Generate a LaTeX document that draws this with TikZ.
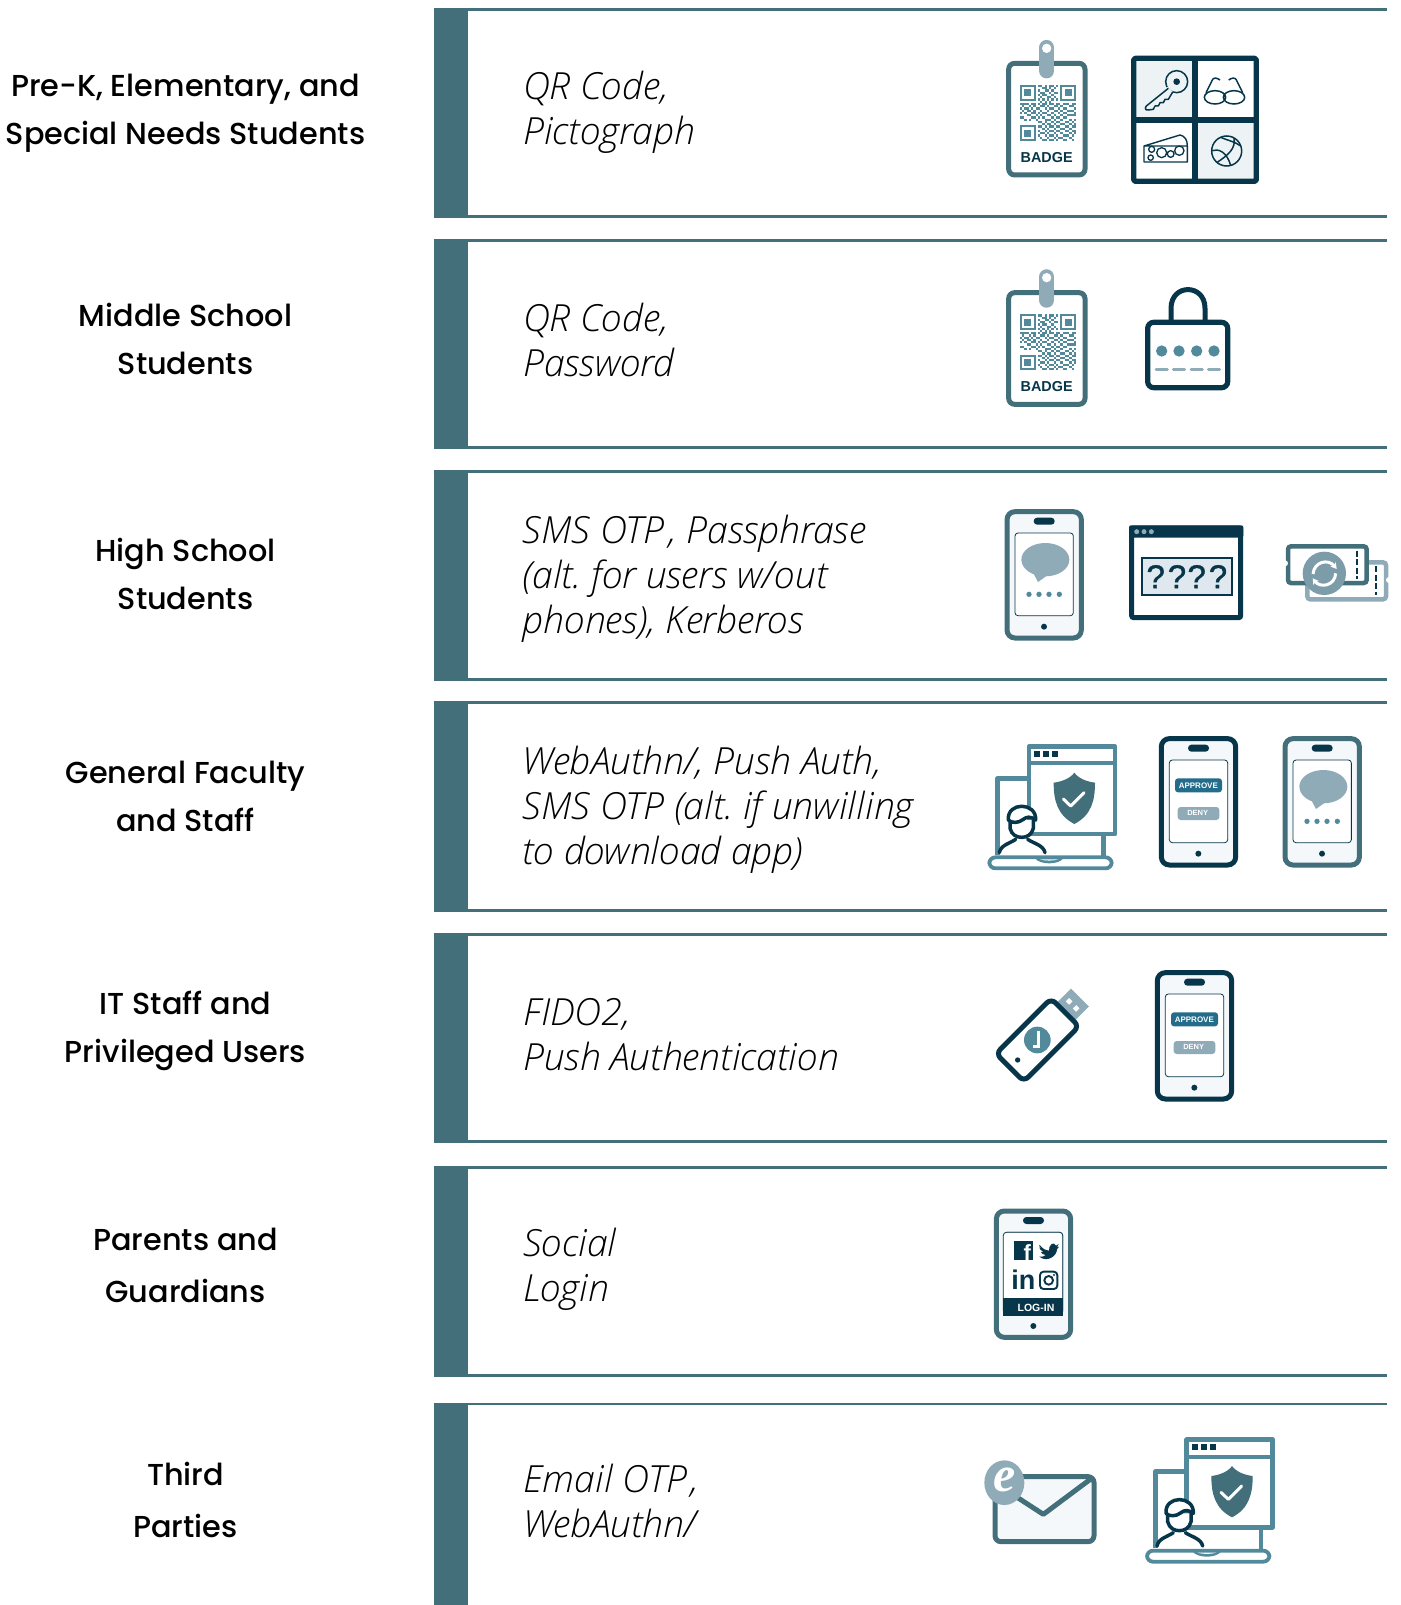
\documentclass[tikz,border=0pt]{standalone}
\usepackage{fontspec}
\setmainfont{Liberation Sans}
\frenchspacing
\newfontfamily\lblfont{Poppins Medium}
\newfontfamily\rowfont{Open Sans Light}[ItalicFont={Open Sans Light Italic}]
\newfontfamily\iconfont{Liberation Sans}[Scale=1]
\newfontfamily\qfont{Liberation Sans}[FakeBold=1.2]
\newfontfamily\efont{Liberation Serif}
\usetikzlibrary{arrows.meta}
\definecolor{barc}{HTML}{436F7B}
\definecolor{navy}{HTML}{07364A}
\definecolor{midt}{HTML}{528A9C}
\definecolor{lite}{HTML}{8FABB8}
\definecolor{pale}{HTML}{F4F8FB}
\definecolor{pale2}{HTML}{EDF3F5}
\definecolor{btn}{HTML}{236C8A}
\definecolor{boxf}{HTML}{DFE8EE}
\tikzset{
  zoomat/.style 2 args={shift={(#1pt,-#2pt)},x=0.33333pt,y=-0.33333pt},
  lbl/.style={align=center,anchor=center,inner sep=0pt,font=\lblfont\fontsize{30.3}{48}\selectfont},
  lblw/.style={align=center,anchor=center,inner sep=0pt,font=\lblfont\fontsize{30.3}{52}\selectfont},
  rowt/.style={align=left,anchor=west,inner sep=0pt,font=\rowfont\itshape\fontsize{37.4}{45}\selectfont},
  glyphb/.style={inner sep=0pt,font=\iconfont\bfseries},
}
\newcommand{\qrcode}[1]{% zoom coordinates: x 120..288, y 195..362, 25 cells
\begin{scope}[midt,shift={(120,195)},x=2.24pt,y=-2.24pt]
 \foreach \fx/\fy in {0/0,18/0,0/18}{
  \draw[line width=2pt] (\fx+.45,\fy+.45) rectangle (\fx+6.55,\fy+6.55);
  \fill (\fx+1.9,\fy+1.9) rectangle (\fx+5.1,\fy+5.1);
 }
 \foreach \ry/\cs in {0/{8,9,11,13,14,16},1/{10,11,13,15},2/{8,11,12,14},3/{9,10,13,15,16},4/{8,10,11,14},5/{9,12,13,15},6/{8,10,12,14,16},7/{9,11,13},
  8/{0,1,2,3,5,6,8,10,11,13,14,16,17,19,20,21,23,24},9/{1,4,6,9,10,12,15,16,18,22,23},10/{0,2,3,5,7,8,11,13,14,17,19,20,24},11/{1,3,4,6,9,12,15,16,18,21,22,23},12/{0,2,5,6,8,10,11,14,17,19,20,24},13/{3,4,7,9,12,13,15,18,21,22,23,24},14/{0,1,5,6,8,10,14,16,17,19,20},15/{2,4,7,11,12,13,15,18,22,24},16/{8,9,11,14,16,17,20,21,23},17/{10,12,13,15,18,19,22,24},18/{8,9,11,13,14,16,17,20,21,23,24},19/{10,12,15,18,19,22},20/{8,11,13,14,16,17,20,21,23,24},21/{9,10,12,15,18,22,24},22/{8,11,13,14,16,19,20,21,23},23/{9,12,15,17,18,22},24/{10,11,13,14,16,19,20,23}}{
  \foreach \rx in \cs { \fill (\rx,\ry) rectangle (\rx+1,\ry+1); }
 }
\end{scope}}
\newcommand{\badgeicon}[3]{% name, ox, oy
\begin{scope}[zoomat={#2}{#3}]
 \draw[barc,fill=white,line width=5pt,rounded corners=6pt] (86,130) rectangle (315,465);
 \draw[lite,line width=15.5pt,line cap=round] (200,83) -- (200,152);
 \fill[white] (200,85) circle (14);
 \qrcode{}
 \node[glyphb,navy,font=\iconfont\bfseries\fontsize{14.4}{15}\selectfont] (#1) at (200,412) {BADGE};
\end{scope}}
\newcommand{\phonebase}[3]{% colour, ox, oy
 \draw[#1,fill=pale,line width=5pt,rounded corners=8pt] (544,26) rectangle (767,405);
 \fill[navy,rounded corners=3.4pt] (624,44) rectangle (687,65);
 \fill[navy] (655,371) circle (9);
 \draw[navy,fill=white,line width=.8pt,rounded corners=3pt] (568,90) rectangle (743,338);}
\newcommand{\bubblephone}[4]{% name, colour, ox, oy
\begin{scope}[zoomat={#3}{#4}]
 \phonebase{#2}{}{}
 \fill[lite] (659,170) ellipse (72 and 50);
 \fill[lite] (620,205) -- (637,237) -- (672,212) -- cycle;
 \foreach \dx in {610,640,670,701}{\fill[midt] (\dx,274) circle (8);}
\end{scope}}
\newcommand{\approvephone}[5]{% names a,d; ox, oy; 
\begin{scope}[zoomat={#3}{#4}]
 \phonebase{navy}{}{}
 \fill[btn,rounded corners=3pt] (585,145) rectangle (726,187);
 \fill[lite,rounded corners=3pt] (593,231) rectangle (718,270);
 \node[inner sep=0pt,white,font=\iconfont\bfseries\fontsize{8}{8}\selectfont] (#1) at (655,166) {APPROVE};
 \node[inner sep=0pt,white,font=\iconfont\bfseries\fontsize{7.5}{8}\selectfont] (#2) at (653,250) {DENY};
\end{scope}}
\newcommand{\shieldicon}[3]{% name, ox, oy in row-4 zoom coordinates
\begin{scope}[zoomat={#2}{#3}]
 \draw[midt,line width=4.4pt,line join=round,fill=white] (53,375) -- (53,145) -- (147,145);
 \draw[midt,line width=4.4pt] (370,312) -- (370,378);
 \draw[midt,line width=4.4pt,fill=white,line join=round] (147,49) rectangle (405,312);
 \draw[midt,line width=4pt] (147,100) -- (410,100);
 \foreach \sx in {162,189,216}{\fill[navy] (\sx,63) rectangle +(18,18);}
 \fill[barc] (283,128) .. controls (295,145) and (320,155) .. (345,158) .. controls (345,210) and (335,255) .. (283,282) .. controls (231,255) and (221,210) .. (221,158) .. controls (246,155) and (271,145) .. (283,128) -- cycle;
 \draw[white,line width=3pt,line cap=round,line join=round] (250,207) -- (272,228) -- (312,188);
 \draw[midt,line width=3.8pt,fill=white,rounded corners=6pt] (28,382) rectangle (395,415);
 \fill[midt] (165,385) .. controls (180,405) and (235,405) .. (250,385) -- cycle;
 \fill[white] (180,388) .. controls (195,393) and (220,393) .. (235,388) -- cycle;
 \draw[navy,line width=3.5pt,line cap=round,fill=white] (90,270) -- (90,295) .. controls (95,315) and (110,322) .. (125,322) .. controls (140,322) and (155,315) .. (160,295) -- (160,270);
 \draw[navy,line width=3.5pt,line join=round,fill=white] (85,270) .. controls (80,215) and (170,215) .. (167,270) .. controls (150,258) and (140,260) .. (130,268) .. controls (115,280) and (95,280) .. (85,270) -- cycle;
 \draw[navy,line width=3.5pt,line cap=round] (58,368) .. controls (62,345) and (90,340) .. (107,328) (195,368) .. controls (190,345) and (160,340) .. (143,328);
 \coordinate (#1) at (283,205);
\end{scope}}
\begin{document}
\begin{tikzpicture}[x=1pt,y=-1pt]
\useasboundingbox (0,0) rectangle (1400,1605);
\fill[white] (0,0) rectangle (1400,1605);
% rows
\foreach \tp/\bt in {9.5/216.5,240.5/447.5,471.5/679.5,702.5/910.5,934.5/1141.5,1167.5/1375.5}{
 \fill[barc] (433.5,\tp) rectangle (468,\bt);
 \draw[barc,line width=2.6pt] (433.5,\tp) -- (1387,\tp) (433.5,\bt) -- (1387,\bt);
}
\fill[barc] (433.5,1404) rectangle (468,1605);
\draw[barc,line width=2.6pt] (433.5,1404) -- (1387,1404);
% left labels
\node[lbl] (l1) at (185.5,113.5) {Pre-K, Elementary, and\\Special Needs Students};
\node[lbl] (l2) at (185.5,339) {Middle School\\Students};
\node[lbl] (l3) at (185.5,574) {High School\\Students};
\node[lbl] (l4) at (185.5,796.5) {General Faculty\\and Staff};
\node[lbl] (l5) at (185.5,1031) {IT Staff and\\Privileged Users};
\node[lblw] (l6) at (185.5,1265.5) {Parents and\\Guardians};
\node[lblw] (l7) at (185.5,1500) {Third\\Parties};
% row text
\node[rowt] (t1) at (523,112) {QR Code,\\Pictograph};
\node[rowt] (t2) at (523,339.5) {QR Code,\\Password};
\node[rowt] (t3) at (522.5,579) {SMS OTP\kern4pt, Passphrase\\(alt. for users w/out\\phones), Kerberos};
\node[rowt] (t4) at (522.5,809.5) {WebAuthn/, Push Auth,\\SMS OTP (alt. if unwilling\\to download app)};
\node[rowt] (t5) at (523,1034.5) {FIDO2,\\Push Authentication};
\node[rowt] (t6) at (523,1269.5) {Social\\Login};
\node[rowt] (t7) at (523,1501) {Email OTP\kern4pt,\\WebAuthn/};
% row 1
\badgeicon{b1}{980}{20}
\begin{scope}[zoomat={980}{20}]
 \fill[pale2] (460,115) rectangle (645,300);
 \fill[pale2] (645,300) rectangle (830,485);
 \draw[navy,line width=5.2pt,line join=round,rounded corners=1.5pt] (461,115) rectangle (829,484);
 \draw[navy,line width=5.2pt] (645,115) -- (645,484) (461,300) -- (829,300);
 % key
 \fill[pale2,draw=navy,line width=1.5pt] (590,185) circle (33);
 \fill[pale2] (563,200) -- (497,258) -- (503,270) -- (520,268) -- (525,258) -- (535,258) -- (540,248) -- (550,248) -- (555,238) -- (565,238) -- (578,215) -- cycle;
 \draw[navy,line width=1.5pt,line join=round] (565,205) -- (499,258) .. controls (493,265) and (497,272) .. (505,270) -- (520,268) -- (525,258) -- (535,258) -- (540,248) -- (550,248) -- (555,238) -- (565,238) -- (578,216);
 \fill[navy] (590,185) circle (10);
 % glasses
 \draw[navy,line width=1.5pt] (705,232) ellipse (32 and 20) (762,232) ellipse (32 and 20);
 \draw[navy,line width=1.5pt] (737,228) -- (730,228);
 \draw[navy,line width=1.5pt,line join=round] (678,218) -- (698,178) .. controls (702,172) and (712,174) .. (720,180) (788,218) -- (768,178) .. controls (764,172) and (754,174) .. (746,180);
 % cheese
 \draw[navy,line width=1.4pt,line join=round] (492,378) -- (600,345) .. controls (615,348) and (622,360) .. (622,378) -- (622,426) -- (492,426) -- cycle (492,378) -- (622,378);
 \draw[navy,line width=1.3pt] (515,388) circle (9) (512,413) circle (8) (545,398) circle (15) (572,402) circle (10) (598,392) circle (14);
 % ball
 \draw[navy,line width=1.5pt] (740,393) circle (45);
 \draw[navy,line width=1.5pt] (722,352) .. controls (745,362) and (765,365) .. (782,378)
   (762,354) .. controls (768,385) and (745,405) .. (710,428)
   (696,392) .. controls (715,385) and (740,395) .. (752,436);
\end{scope}
% row 2
\badgeicon{b2}{980}{249.33}
\begin{scope}[zoomat={990}{270}]
 \draw[navy,line width=5pt,line cap=round] (543,150) -- (543,115) .. controls (543,40) and (645,40) .. (645,115) -- (645,150);
 \draw[navy,fill=white,line width=5.2pt,rounded corners=6pt] (473,157) rectangle (713,353);
 \foreach \dx in {515,567,620,672}{\fill[midt] (\dx,243) circle (17);}
 \foreach \dx in {515,567,620,672}{\draw[lite,line width=3pt,line cap=round] (\dx-17,298) -- (\dx+17,298);}
\end{scope}
% row 3
\bubblephone{p3}{barc}{825.67}{503}
\begin{scope}[zoomat={990}{500}]
 \draw[navy,fill=white,line width=5pt,rounded corners=2pt] (425,84) rectangle (752,353);
 \fill[navy,rounded corners=2pt] (417,76) rectangle (760,113);
 \foreach \dx in {440,462,484}{\fill[lite] (\dx,95) circle (7.5);}
 \draw[navy,fill=boxf,line width=2pt] (455,175) rectangle (726,285);
 \foreach \qx [count=\qi] in {497,561,620,684}{
  \node[inner sep=0pt,navy,font=\qfont\fontsize{33}{33}\selectfont] (q\qi) at (\qx,230) {?};
 }
 % tickets
 \draw[lite,fill=white,line width=4.5pt,rounded corners=3pt] (952,187) rectangle (1188,298);
 \fill[white] (1197,240) circle (9);
 \draw[navy,line width=2pt,dash pattern=on 6pt off 2.5pt] (1158,198) -- (1158,285);
 \draw[barc,fill=white,line width=4.5pt,rounded corners=3pt] (894,139) rectangle (1130,249);
 \fill[white] (885,190) circle (9);
 \draw[navy,line width=2pt,dash pattern=on 6pt off 2.5pt] (1101,152) -- (1101,237);
 \fill[lite!75!barc] (1003,220) circle (65);
 \draw[white,line width=3pt,-{Stealth[length=6pt,width=7pt]}] (969,222) .. controls (972,185) and (1015,175) .. (1040,207);
 \draw[white,line width=3pt,-{Stealth[length=6pt,width=7pt]}] (1037,220) .. controls (1035,258) and (990,265) .. (968,235);
\end{scope}
% row 4
\shieldicon{s4}{980}{730}
\approvephone{a4}{d4}{980}{730}{}
\bubblephone{p4}{barc}{1103.67}{730}
% row 5
\begin{scope}[zoomat={980}{960}]
 \begin{scope}[shift={(172.5,240)},rotate=45]
  \fill[lite] (122,-38) rectangle (180,38);
  \fill[white] (142,-22) rectangle +(14,14);
  \fill[white] (142,8) rectangle +(14,14);
  \draw[navy,fill=white,line width=5pt,rounded corners=6pt] (-117,-59) rectangle (117,59);
 \end{scope}
 \fill[midt] (172,240) circle (40);
 \draw[white,line width=2.4pt] (175,212) -- (175,260) -- (160,260);
 \fill[navy] (113,300) circle (8);
\end{scope}
\approvephone{a5}{d5}{976}{964}{}
% row 6
\begin{scope}[zoomat={815}{1202.33}]
 \phonebase{barc}{}{}
\end{scope}
\begin{scope}[zoomat={980}{1200}]
 \draw[navy,fill=white,line width=.8pt,rounded corners=3pt] (70,97) rectangle (248,340);
 \fill[navy] (69,295) rectangle (249,348);
 \node[inner sep=0pt,white,font=\iconfont\bfseries\fontsize{10.5}{11}\selectfont] (lg) at (168,323) {LOG-IN};
 \fill[navy] (102,123) rectangle (160,180);
 \node[inner sep=0pt,white,font=\iconfont\bfseries\fontsize{22}{22}\selectfont,anchor=base] (fb) at (142,180) {f};
 \fill[navy] (178,134) .. controls (190,148) and (198,152) .. (207,152) .. controls (205,135) and (222,122) .. (228,137) -- (236,132) -- (231,141) -- (237,140) -- (231,148) .. controls (230,170) and (200,188) .. (178,170) .. controls (186,172) and (194,168) .. (197,165) .. controls (190,165) and (184,160) .. (183,156) -- (190,155) .. controls (182,152) and (178,146) .. (178,142) -- (185,144) .. controls (178,140) and (176,138) .. (178,134) -- cycle;
 \node[inner sep=0pt,navy,font=\iconfont\bfseries\fontsize{27}{27}\selectfont,anchor=base] (li) at (130,269) {in};
 \draw[navy,line width=1.9pt,rounded corners=3.5pt] (180,215) rectangle (232,267);
 \draw[navy,line width=1.9pt] (206,241) circle (13);
 \fill[navy] (222,225) circle (3.2);
\end{scope}
% row 7
\begin{scope}[zoomat={970}{1425}]
 \draw[barc,fill=pale,line width=5pt,rounded corners=6pt] (75,155) rectangle (372,350);
 \draw[barc,line width=5pt,line join=round] (362,162) -- (220,268) -- (100,190);
 \fill[lite] (103,173) ellipse (60 and 67);
 \node[inner sep=0pt,white,font=\efont\bfseries\itshape\fontsize{50}{50}\selectfont] (em) at (103,165) {e};
\end{scope}
\shieldicon{s7}{1137.67}{1423.33}
\end{tikzpicture}
\end{document}
